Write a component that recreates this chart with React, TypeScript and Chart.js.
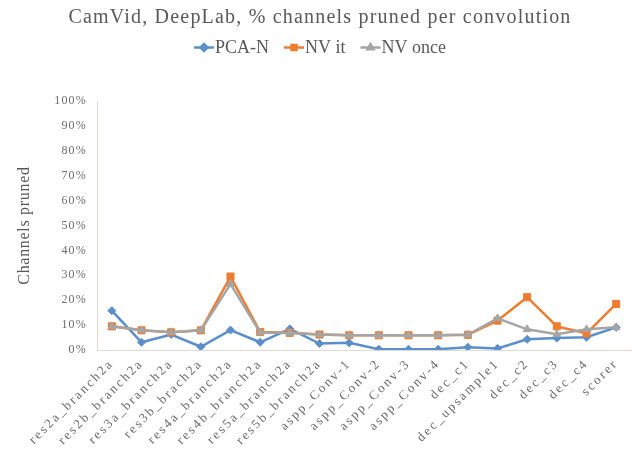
import { useEffect, useRef } from 'react';
import { Chart, registerables } from 'chart.js';
import { drawPoint } from 'chart.js/helpers';

Chart.register(...registerables);

const TITLE = 'CamVid, DeepLab, % channels pruned per convolution';
const Y_TITLE = 'Channels pruned';

const categories = [
  'res2a_branch2a',
  'res2b_branch2a',
  'res3a_branch2a',
  'res3b_brach2a',
  'res4a_branch2a',
  'res4b_branch2a',
  'res5a_branch2a',
  'res5b_branch2a',
  'aspp_Conv-1',
  'aspp_Conv-2',
  'aspp_Conv-3',
  'aspp_Conv-4',
  'dec_c1',
  'dec_upsample1',
  'dec_c2',
  'dec_c3',
  'dec_c4',
  'scorer',
];

// % of channels pruned per layer
const pcaN = [15.8, 3.1, 6.2, 1.3, 8.0, 3.1, 8.5, 2.6, 2.9, 0.3, 0.3, 0.3, 1.1, 0.6, 4.3, 4.8, 5.1, 9.1];
const nvIt = [9.5, 7.9, 7.1, 7.9, 29.5, 7.2, 6.9, 6.2, 5.9, 5.9, 5.9, 5.9, 6.1, 11.8, 21.2, 9.5, 6.7, 18.5];
const nvOnce = [9.5, 7.9, 7.1, 7.9, 26.5, 7.0, 6.8, 6.2, 5.9, 5.9, 5.9, 5.9, 6.1, 12.7, 8.3, 6.3, 8.3, 9.1];

const yMin = 0;
const yMax = 100;
const yStep = 10;

const SERIF = '"Liberation Serif", "Times New Roman", serif';
const TEXT = '#595959';
const TICK = '#6b6b6b';
const AXIS = '#e3d9d3';

const BLUE = '#5b8fcb';
const ORANGE = '#ed7d31';
const GRAY = '#a5a5a5';

// letter spacing (px) applied to each scale's labels and title
const scaleSpacing: Record<string, { labels: number; title: number }> = {
  x: { labels: 2.3, title: 0 },
  y: { labels: 1.2, title: 0.7 },
};

const spacingPlugin = {
  id: 'scaleSpacing',
  beforeDraw(chart: any) {
    for (const id of Object.keys(scaleSpacing)) {
      const scale = chart.scales[id];
      if (!scale || scale.__spaced) continue;
      scale.__spaced = true;
      const sp = scaleSpacing[id];
      const drawLabels = scale.drawLabels.bind(scale);
      const drawTitle = scale.drawTitle.bind(scale);
      scale.drawLabels = (area: any) => {
        const ctx = chart.ctx;
        const prev = ctx.letterSpacing;
        ctx.letterSpacing = sp.labels + 'px';
        drawLabels(area);
        ctx.letterSpacing = prev;
      };
      scale.drawTitle = (area: any) => {
        const ctx = chart.ctx;
        const prev = ctx.letterSpacing;
        ctx.letterSpacing = sp.title + 'px';
        drawTitle(area);
        ctx.letterSpacing = prev;
      };
    }
  },
};

// chart title and the legend row beneath it
const headerPlugin = {
  id: 'header',
  afterDraw(chart: any) {
    const ctx = chart.ctx;
    const cx = 320;
    ctx.save();
    ctx.fillStyle = TEXT;
    ctx.textBaseline = 'alphabetic';
    ctx.textAlign = 'center';
    ctx.letterSpacing = '1.2px';
    ctx.font = `20px ${SERIF}`;
    ctx.fillText(TITLE, cx, 23);

    ctx.letterSpacing = '0px';
    ctx.font = `18px ${SERIF}`;
    ctx.textAlign = 'left';
    const lineLen = 20;
    const textGap = 1;
    const itemGap = 15;
    const items = chart.data.datasets.map((ds: any) => ({
      text: ds.label as string,
      color: ds.borderColor as string,
      style: ds.pointStyle as string,
      width: ctx.measureText(ds.label).width,
    }));
    const total =
      items.reduce((s: number, it: any) => s + lineLen + textGap + it.width, 0) +
      itemGap * (items.length - 1);
    let x = cx - total / 2;
    const ly = 47.5;
    for (const it of items) {
      ctx.strokeStyle = it.color;
      ctx.fillStyle = it.color;
      ctx.lineWidth = 2.5;
      ctx.beginPath();
      ctx.moveTo(x, ly);
      ctx.lineTo(x + lineLen, ly);
      ctx.stroke();
      drawPoint(ctx, { pointStyle: it.style, radius: 3.5, rotation: 0, borderWidth: 1 }, x + lineLen / 2, ly);
      x += lineLen + textGap;
      ctx.fillStyle = TEXT;
      ctx.fillText(it.text, x, 53);
      x += it.width + itemGap;
    }
    ctx.restore();
  },
};

export default function App() {
  const canvasRef = useRef<HTMLCanvasElement | null>(null);

  useEffect(() => {
    const canvas = canvasRef.current;
    if (!canvas) return;
    const chart = new Chart(canvas, {
      type: 'line',
      data: {
        labels: categories,
        datasets: [
          {
            label: 'PCA-N',
            data: pcaN,
            borderColor: BLUE,
            backgroundColor: BLUE,
            borderWidth: 2.5,
            pointStyle: 'rectRot',
            pointRadius: 4,
            pointBorderWidth: 1,
            tension: 0,
            order: 3,
          },
          {
            label: 'NV it',
            data: nvIt,
            borderColor: ORANGE,
            backgroundColor: ORANGE,
            borderWidth: 2.5,
            pointStyle: 'rect',
            pointRadius: 5,
            pointBorderWidth: 1,
            tension: 0,
            order: 2,
          },
          {
            label: 'NV once',
            data: nvOnce,
            borderColor: GRAY,
            backgroundColor: GRAY,
            borderWidth: 2.5,
            pointStyle: 'triangle',
            pointRadius: 4.5,
            pointBorderWidth: 1,
            tension: 0,
            order: 1,
          },
        ],
      },
      options: {
        animation: false,
        responsive: false,
        events: [],
        layout: { autoPadding: false, padding: { top: 101, right: 1, left: 0, bottom: 0 } },
        plugins: {
          legend: { display: false },
          title: { display: false },
          tooltip: { enabled: false },
        },
        scales: {
          x: {
            type: 'category',
            offset: true,
            grid: { display: false, drawTicks: false },
            border: { display: true, color: AXIS, width: 1 },
            ticks: {
              autoSkip: false,
              maxRotation: 45,
              minRotation: 45,
              padding: 6,
              color: TICK,
              font: { family: SERIF, size: 13 },
            },
            afterFit: (s: any) => {
              s.height = 104;
              s.paddingRight = 0;
            },
          },
          y: {
            min: yMin,
            max: yMax,
            grid: { display: false, drawTicks: false },
            border: { display: true, color: AXIS, width: 1 },
            ticks: {
              stepSize: yStep,
              padding: 10,
              color: TICK,
              font: { family: SERIF, size: 12 },
              callback: (v: any) => `${v}%`,
            },
            title: {
              display: true,
              text: Y_TITLE,
              color: TEXT,
              font: { family: SERIF, size: 16 },
              padding: { top: 15, bottom: 0 },
            },
            afterFit: (s: any) => {
              s.width = 97;
            },
          },
        },
      },
      plugins: [spacingPlugin, headerPlugin],
    });
    return () => chart.destroy();
  }, []);

  return (
    <div style={{ position: 'fixed', left: 0, top: 0, width: 632, height: 454, background: '#fff' }}>
      <canvas ref={canvasRef} width={632} height={454} style={{ display: 'block', width: 632, height: 454 }} />
    </div>
  );
}
